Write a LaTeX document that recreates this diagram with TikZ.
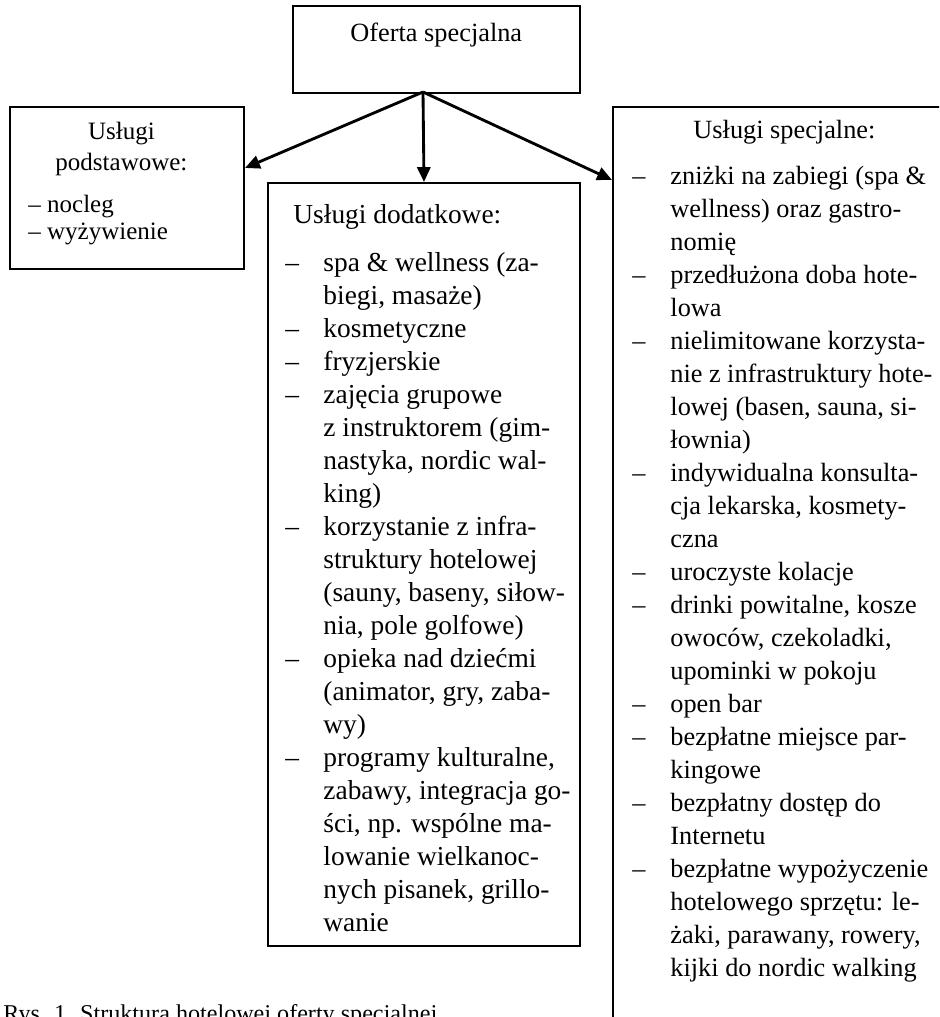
\documentclass[tikz,border=0pt]{standalone}
\usepackage{fontspec}
\setmainfont{Liberation Serif}
\usetikzlibrary{arrows.meta}
\newlength{\px}
\setlength{\px}{0.456pt}
\newcommand{\pkt}{\makebox[38\px][l]{–}}
\newcommand{\dalej}{\hspace*{38\px}}
\newcommand{\duzy}{\fontsize{12pt}{15.05pt}\selectfont}
\newcommand{\sredni}{\fontsize{12.5pt}{15.05pt}\selectfont}
\newcommand{\maly}{\fontsize{11.4pt}{13.7pt}\selectfont}
\begin{document}
\begin{tikzpicture}[x=0.456pt,y=-0.456pt,
  ramka/.style={draw,line width=0.9pt,inner sep=0pt,anchor=north west},
  tekst/.style={inner sep=0pt,anchor=base west,font=\duzy},
  strz/.style={line width=1.3pt,-{Triangle[length=6.8pt,width=6pt]}}]
\useasboundingbox (0,0) rectangle (939,1017);
\clip (0,0) rectangle (939,1017);
\node[ramka,minimum width=287\px,minimum height=87\px] (ofr) at (292,5) {};
\node[ramka,minimum width=234\px,minimum height=162\px] (pod) at (9,106) {};
\node[ramka,minimum width=312\px,minimum height=763\px] (dod) at (267,182) {};
\node[ramka,minimum width=400\px,minimum height=1000\px] (spe) at (612,106) {};
\node[tekst] (ofrt) at (350,42) {Oferta specjalna};
\node[tekst,font=\maly] (podt) at (28,140) {\parbox[t]{186\px}{\centering Usługi\\podstawowe:\par
\vspace{12\px}\raggedright – nocleg\\[-3\px]– wyżywienie}};
\node[tekst,font=\sredni] (dodt) at (285,224) {\parbox[t]{300\px}{\raggedright
\hspace*{8\px}Usługi dodatkowe:\\[14\px]
\pkt spa \& wellness (za-\\
\dalej biegi, masaże)\\
\pkt kosmetyczne\\
\pkt fryzjerskie\\
\pkt zajęcia grupowe\\
\dalej z instruktorem (gim-\\
\dalej nastyka, nordic wal-\\
\dalej king)\\
\pkt korzystanie z infra-\\
\dalej struktury hotelowej\\
\dalej (sauny, baseny, siłow-\\
\dalej nia, pole golfowe)\\
\pkt opieka nad dziećmi\\
\dalej (animator, gry, zaba-\\
\dalej wy)\\
\pkt programy kulturalne,\\
\dalej zabawy, integracja go-\\
\dalej ści, np. wspólne ma-\\
\dalej lowanie wielkanoc-\\
\dalej nych pisanek, grillo-\\
\dalej wanie}};
\node[tekst] (spet) at (632,139) {\parbox[t]{300\px}{\raggedright
\hspace*{61\px}Usługi specjalne:\\[12\px]
\pkt zniżki na zabiegi (spa \&\\
\dalej wellness) oraz gastro-\\
\dalej nomię\\
\pkt przedłużona doba hote-\\
\dalej lowa\\
\pkt nielimitowane korzysta-\\
\dalej nie z infrastruktury hote-\\
\dalej lowej (basen, sauna, si-\\
\dalej łownia)\\
\pkt indywidualna konsulta-\\
\dalej cja lekarska, kosmety-\\
\dalej czna\\
\pkt uroczyste kolacje\\
\pkt drinki powitalne, kosze\\
\dalej owoców, czekoladki,\\
\dalej upominki w pokoju\\
\pkt open bar\\
\pkt bezpłatne miejsce par-\\
\dalej kingowe\\
\pkt bezpłatny dostęp do\\
\dalej Internetu\\
\pkt bezpłatne wypożyczenie\\
\dalej hotelowego sprzętu: le-\\
\dalej żaki, parawany, rowery,\\
\dalej kijki do nordic walking}};
\node[tekst,font=\fontsize{11pt}{13pt}\selectfont] (rys) at (3,1021) {Rys. 1. Struktura hotelowej oferty specjalnej};
\coordinate (src) at (423,92);
\draw[strz] (src) -- ([yshift=20\px]pod.east);
\draw[strz] (src) -- (dod.north);
\draw[strz] (src) -- ([yshift=-74\px]spe.north west);
\end{tikzpicture}
\end{document}
